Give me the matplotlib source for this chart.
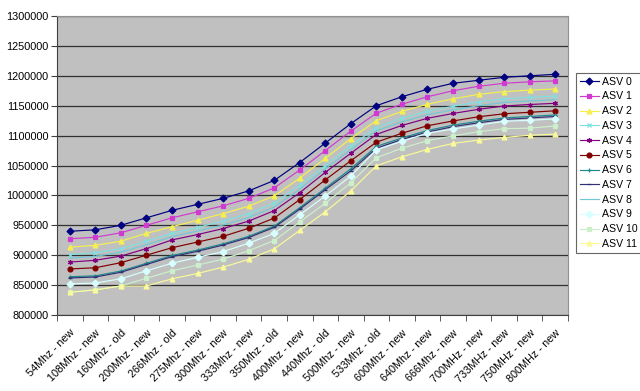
import matplotlib.pyplot as plt
import numpy as np

plt.rcParams['font.family'] = ['Liberation Sans', 'DejaVu Sans']

freqs = ["54Mhz - new", "108Mhz - new", "160Mhz - old", "200Mhz - new", "266Mhz - old",
         "275Mhz - new", "300Mhz - new", "333Mhz - new", "350Mhz - old", "400Mhz - new",
         "440Mhz - old", "500Mhz - new", "533Mhz - old", "600Mhz - new", "640Mhz - new",
         "666Mhz - new", "700MHz - new", "733MHz - new", "750MHz - new", "800MHz - new"]

asv0 = [940000, 942500, 950000, 962500, 975000, 985000, 995000, 1007500, 1025000, 1055000,
        1087500, 1120000, 1150000, 1165000, 1177500, 1187500, 1192500, 1197500, 1200000, 1202500]
asv1 = [927500, 930000, 937500, 950000, 962500, 972500, 982500, 995000, 1012500, 1042500,
        1075000, 1107500, 1137500, 1152500, 1165000, 1175000, 1182500, 1187500, 1190000, 1191500]
asv2 = [913500, 916500, 923500, 936500, 947500, 958500, 969500, 982000, 999000, 1029000,
        1062000, 1095000, 1125000, 1140500, 1152500, 1161500, 1169000, 1173500, 1176000, 1178000]
asv3 = [901000, 904000, 911000, 923500, 936500, 946500, 957000, 969500, 987000, 1017000,
        1050000, 1083000, 1113500, 1129000, 1141000, 1149000, 1156500, 1161500, 1164000, 1166000]
asv4 = [888500, 891500, 898500, 911000, 925500, 934500, 944500, 957000, 974500, 1004500,
        1038500, 1070500, 1102000, 1117000, 1129000, 1137000, 1144000, 1149500, 1152000, 1154000]
asv5 = [877000, 879000, 887500, 900000, 912500, 922000, 931500, 945000, 962000, 993000,
        1026000, 1058000, 1089000, 1104000, 1116500, 1124500, 1131500, 1136500, 1139000, 1141500]
asv6 = [864000, 865500, 873500, 886500, 899500, 908500, 919000, 931500, 948500, 979500,
        1012000, 1044500, 1082000, 1096000, 1108500, 1117500, 1124000, 1129500, 1132000, 1134500]
asv7 = [862000, 863500, 871500, 884500, 897500, 906500, 917000, 929500, 946500, 977000,
        1009500, 1041000, 1079000, 1093500, 1106000, 1115000, 1121500, 1127000, 1129500, 1132000]
asv8 = [895000, 898000, 905000, 917500, 931000, 940500, 950500, 963000, 980500, 1010500,
        1044500, 1076500, 1108000, 1123000, 1135000, 1143000, 1150000, 1155500, 1158000, 1160000]
asv9 = [852000, 853500, 860500, 874000, 886500, 896500, 906000, 920000, 936500, 967500,
        999000, 1032500, 1076000, 1090500, 1104000, 1111000, 1117500, 1124000, 1125500, 1128000]
asv10 = [838000, 842000, 848500, 861500, 874000, 883500, 893500, 907500, 924500, 955500,
         987000, 1021000, 1063000, 1079000, 1091500, 1099500, 1106500, 1111500, 1112500, 1116000]
asv11 = [838000, 842000, 848500, 848500, 860500, 869500, 880000, 893000, 910500, 941500,
         972500, 1007500, 1049500, 1064500, 1077000, 1087000, 1092500, 1097000, 1100500, 1102500]

series = [asv0, asv1, asv2, asv3, asv4, asv5, asv6, asv7, asv8, asv9, asv10, asv11]
names = ["ASV %d" % i for i in range(12)]
colors = ["#000080", "#d03ad0", "#f5f050", "#80e0e0", "#800080", "#800000",
          "#208a8a", "#303078", "#70c8d8", "#d8ffff", "#ccf0cc", "#fafa9a"]
markers = ["D", "s", "^", "x", (6, 2, 0), "o", "+", "_", "", "D", "s", "^"]

fig = plt.figure(figsize=(6.4, 3.91), dpi=100)
ax = fig.add_axes([57 / 640, 1 - 315 / 391, 511 / 640, 299 / 391])
ax.set_facecolor("#c0c0c0")

x = np.arange(len(freqs))
for vals, name, c, m in zip(series, names, colors, markers):
    ax.plot(x, vals, color=c, marker=m, markersize=3.5, markeredgewidth=0.9,
            linewidth=0.85, label=name)

ax.set_xlim(-0.5, len(freqs) - 0.5)
ax.set_ylim(800000, 1300000)
ax.set_yticks(np.arange(800000, 1300001, 50000))
ax.set_yticklabels([str(v) for v in range(800000, 1300001, 50000)], fontsize=7.8)
ax.yaxis.grid(True, color="#303030", linewidth=0.9)
ax.set_axisbelow(True)

ax.set_xticks(x)
ax.set_xticklabels(freqs, rotation=45, ha="right", rotation_mode="anchor", fontsize=7.8)
ax.set_xticks(np.arange(-0.5, len(freqs), 1), minor=True)
ax.tick_params(axis="x", which="major", length=0, pad=9)
ax.tick_params(axis="x", which="minor", length=4, direction="out", color="#404040")
ax.tick_params(axis="y", length=4, direction="out", color="#404040", pad=2)

for s in ["left", "bottom"]:
    ax.spines[s].set_color("#404040")
for s in ["top", "right"]:
    ax.spines[s].set_color("#909090")

leg = fig.legend(loc="upper left", bbox_to_anchor=(576 / 640, 1 - 73 / 391),
                 borderaxespad=0, fontsize=7.6, frameon=True, fancybox=False,
                 edgecolor="#404040", labelspacing=0.45, handlelength=1.8,
                 handletextpad=0.3, borderpad=0.35)
leg.get_frame().set_linewidth(0.8)

plt.savefig("out.png", dpi=100)
plt.close()
